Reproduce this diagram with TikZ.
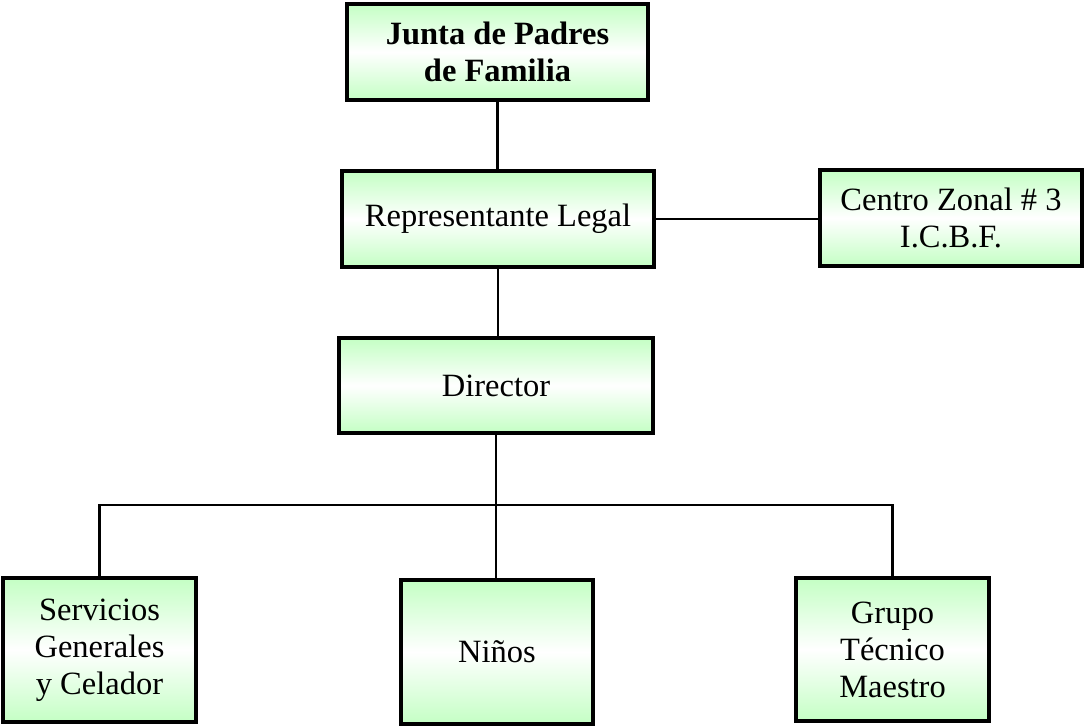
\documentclass[tikz,border=0pt]{standalone}
\usepackage{fontspec}
\setmainfont{Liberation Serif}
\usetikzlibrary{shadows}
\definecolor{boxgreen}{RGB}{196,255,196}
\tikzset{
  orgbox/.style={draw=black, line width=3.4pt, inner sep=0pt, align=center,
    top color=boxgreen, bottom color=boxgreen, middle color=white,
    drop shadow={shadow xshift=1.8pt, shadow yshift=-1.8pt, fill=gray!60, opacity=1},
    font=\fontsize{32.5}{37}\selectfont},
  link/.style={draw=black, line width=2.8pt}
}
\begin{document}
\begin{tikzpicture}[x=1pt,y=-1pt]
\useasboundingbox (0,0) rectangle (1085,726);
\node[orgbox, minimum width=301pt, minimum height=96pt] (junta) at (497.5,52) {\bfseries Junta de Padres\\\bfseries de Familia};
\node[orgbox, minimum width=312pt, minimum height=96pt] (rep) at (498,219) {Representante Legal};
\node[orgbox, minimum width=262pt, minimum height=96pt] (centro) at (951,218) {Centro Zonal \# 3\\I.C.B.F.};
\node[orgbox, minimum width=314pt, minimum height=95pt] (dir) at (496,385.5) {Director};
\node[orgbox, minimum width=193pt, minimum height=144pt] (serv) at (99.5,650) {Servicios\\Generales\\y Celador};
\node[orgbox, minimum width=192pt, minimum height=144pt] (ninos) at (497,652) {Niños};
\node[orgbox, minimum width=193pt, minimum height=143pt] (grupo) at (892.5,649.5) {Grupo\\Técnico\\Maestro};
\coordinate (bus) at (497,505);
\draw[link] (junta.south) -- (junta.south |- rep.north);
\draw[link] (rep.east) -- (rep.east -| centro.west);
\draw[link] (rep.south) -- (rep.south |- dir.north);
\draw[link] (dir.south) -- (dir.south |- ninos.north);
\draw[link] (serv.north) |- (bus) -| (grupo.north);
\end{tikzpicture}
\end{document}
